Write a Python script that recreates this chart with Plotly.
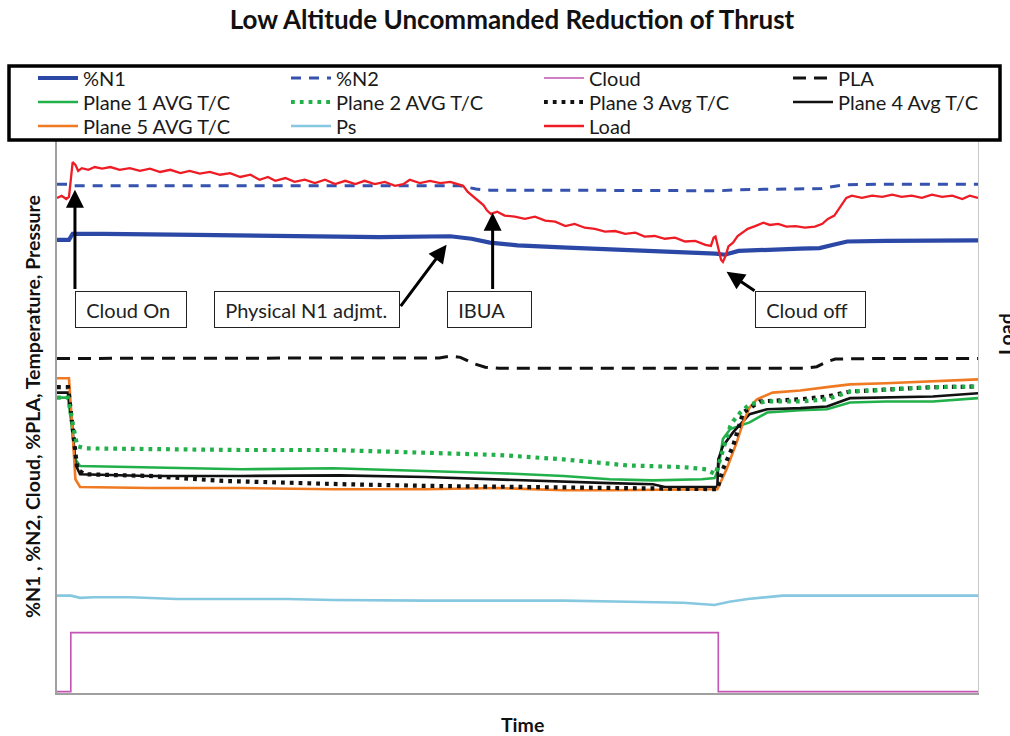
import plotly.graph_objects as go

FONT = "Lato"

# ---------------- data (time 0-100, values in % of axis height) ----------------
n1_t = [0, 1.3, 1.7, 5, 15, 25, 35, 42.7, 45, 47, 50, 55.4, 62, 69.8, 71.5, 72.5, 74, 80.7, 82.8, 84.3, 85.8, 90, 95, 100]
n1_v = [81.9, 81.9, 83.0, 83.0, 82.8, 82.6, 82.4, 82.55, 82.1, 81.4, 80.9, 80.5, 80.1, 79.6, 79.4, 79.2, 79.9, 80.3, 80.4, 81.0, 81.6, 81.7, 81.8, 81.8]

n2_t = [0, 1.3, 1.7, 10, 30, 43.8, 45.5, 47, 55, 65, 72, 74, 80.7, 83, 85.5, 90, 100]
n2_v = [92.0, 92.0, 91.7, 91.7, 91.6, 91.7, 91.1, 90.9, 90.9, 90.9, 90.8, 91.0, 91.2, 91.2, 91.9, 92.0, 92.0]

cloud_t = [0, 1.5, 71.8, 100]
cloud_v = [0, 10.7, 0, 0]

pla_t = [0, 10, 30, 41.5, 42.7, 43.8, 45.2, 46.5, 48, 55, 70, 81.2, 82.5, 83.6, 84.5, 90, 100]
pla_v = [60.4, 60.4, 60.4, 60.5, 60.8, 60.6, 59.5, 58.8, 58.6, 58.6, 58.6, 58.6, 58.9, 59.8, 60.3, 60.4, 60.4]

p1_t = [0, 1.2, 1.5, 2.0, 2.5, 10, 20, 30, 40, 48, 55, 60, 64.7, 70, 71.4, 71.8, 72.3, 73.1, 75.2, 77.1, 80.7, 83.6, 86.1, 90, 95.1, 100]
p1_v = [53.3, 53.3, 49.4, 42.1, 40.9, 40.7, 40.3, 40.5, 40.0, 39.6, 39.1, 38.5, 38.3, 38.5, 38.7, 40.3, 45.8, 47.6, 48.8, 50.6, 51.0, 51.2, 52.4, 52.6, 52.6, 53.2]

p2_t = [0, 1.2, 1.6, 2.2, 3, 10, 20, 30, 40, 48, 55, 62, 68, 70.5, 71.5, 72.2, 73.1, 73.4, 74.2, 75.2, 77, 80.7, 83.6, 86.1, 90, 95.1, 100]
p2_v = [53.3, 53.3, 49.4, 44.5, 44.1, 43.9, 43.8, 43.8, 43.4, 42.9, 42.1, 41.0, 40.7, 40.3, 39.4, 43.4, 48.1, 49.0, 50.6, 52.1, 52.6, 52.6, 53.0, 54.4, 54.8, 55.2, 55.3]

p3_t = [0, 1.2, 1.6, 2.2, 3, 10, 18, 25, 31, 40, 50, 60, 71.7, 72.3, 73.4, 74.5, 76.3, 80.7, 83.6, 86.1, 90, 95.1, 100]
p3_v = [55.2, 55.2, 49.4, 40.3, 39.4, 39.1, 38.2, 37.8, 37.6, 37.3, 37.1, 36.9, 36.7, 40.3, 44.5, 50.6, 52.6, 53.0, 53.5, 54.4, 54.8, 55.2, 55.3]

p4_t = [0, 1.2, 1.6, 2.0, 2.5, 10, 20, 30.7, 40, 50, 60, 64.7, 66, 71.7, 71.8, 72.3, 73.4, 75.2, 77.1, 80.7, 83.6, 86.1, 90, 95.1, 100]
p4_v = [54.2, 54.2, 49.4, 41.2, 39.4, 39.1, 39.1, 39.2, 38.9, 38.3, 37.8, 37.6, 37.1, 37.1, 42.1, 44.5, 47.0, 50.3, 51.2, 51.4, 51.7, 53.2, 53.3, 53.5, 54.1]

p5_t = [0, 1.3, 1.6, 2.0, 2.5, 10, 20, 30, 40, 48, 55, 60, 71.7, 72.7, 73.8, 74.5, 75.2, 76.0, 77.7, 80.7, 83.6, 86.1, 90, 95.1, 100]
p5_v = [56.8, 56.8, 49.4, 38.5, 37.1, 36.9, 36.9, 36.7, 36.7, 36.9, 36.5, 36.5, 36.7, 40.3, 45.2, 48.8, 51.5, 53.0, 54.2, 54.6, 55.2, 55.7, 55.9, 56.2, 56.6]

ps_t = [0, 1.5, 2.5, 4, 8, 13, 25, 30, 40, 55, 62, 68, 71.4, 73, 75, 78.8, 85, 95, 100]
ps_v = [17.4, 17.4, 17.0, 17.1, 17.1, 16.8, 16.8, 16.6, 16.5, 16.5, 16.3, 16.1, 15.7, 16.3, 16.8, 17.4, 17.4, 17.4, 17.4]

load_t = [0, 0.5, 1.0, 1.3, 1.5, 1.7, 2.0, 2.3, 2.7, 3.4, 4.1, 4.9, 5.8, 6.8, 7.9, 9.0, 10.1, 11.2, 12.3, 13.4,
          14.4, 15.5, 16.6, 17.7, 18.8, 19.9, 21.0, 22.0, 22.9, 23.7, 24.8, 25.8, 26.9, 28.0, 29.1, 30.2, 31.3, 32.4, 33.4, 34.5,
          35.6, 36.7, 37.6, 38.3, 39.4, 40.5, 41.6, 42.7, 43.5, 44.1, 44.6, 45.2, 45.7, 46.3, 46.7, 47.1, 47.8, 48.6, 49.7, 50.8,
          51.9, 53.0, 54.1, 55.2, 56.2, 57.3, 58.4, 59.5, 60.6, 61.7, 62.8, 63.8, 64.9, 66.0, 67.1, 68.2, 69.3, 70.4, 71.0, 71.3,
          71.5, 71.8, 72.1, 72.3, 72.6, 72.9, 73.4, 73.9, 74.5, 75.0, 75.8, 76.7, 77.4, 78.3, 79.2, 80.2, 81.2, 82.3, 83.1, 83.7,
          84.4, 84.8, 85.2, 85.7, 86.3, 87.4, 88.5, 89.6, 90.7, 91.7, 92.8, 93.9, 95.0, 96.1, 97.2, 98.3, 99.1, 100]
load_v = [89.5, 89.9, 89.3, 89.7, 92.8, 96.0, 95.5, 94.4, 94.9, 94.6, 95.1, 94.8, 95.1, 94.6, 94.9, 94.4, 94.8, 94.2, 94.6, 94.0,
          94.4, 93.9, 94.2, 93.7, 94.0, 93.3, 93.7, 92.8, 93.3, 92.6, 93.1, 92.4, 92.8, 92.2, 92.8, 92.0, 92.6, 92.0, 92.6, 92.0,
          92.4, 91.7, 92.0, 92.8, 92.2, 92.6, 92.2, 92.4, 92.0, 91.7, 90.6, 89.7, 89.0, 88.2, 87.2, 86.6, 87.0, 86.3, 86.1, 85.7,
          86.1, 85.4, 85.2, 84.4, 84.8, 84.1, 83.9, 83.4, 83.5, 83.0, 83.2, 82.5, 82.6, 82.1, 82.3, 81.6, 81.7, 81.0, 80.8, 82.3,
          82.5, 80.1, 78.3, 77.9, 79.0, 80.7, 81.4, 82.6, 83.4, 83.9, 84.4, 85.0, 84.6, 84.8, 84.3, 84.4, 84.1, 84.3, 84.8, 85.7,
          86.3, 87.3, 88.1, 89.5, 89.9, 89.5, 89.9, 89.7, 90.1, 89.7, 89.9, 89.5, 90.1, 89.7, 89.9, 89.3, 89.9, 89.5]

# annotations: (label, x center, y center, box width px)
box_labels = ["Cloud On", "Physical N1 adjmt.", "IBUA", "Cloud off"]
box_x = [8.03, 27.1, 46.96, 81.8]
box_y = [69.3, 69.3, 69.3, 69.3]
box_w = [112, 186, 85, 111]
# arrows: tip (x,y) and tail (x,y)
arr_tip_x = [1.95, 42.3, 47.3, 72.7]
arr_tip_y = [91.0, 81.0, 86.8, 76.1]
arr_tail_x = [1.95, 37.2, 47.3, 75.9]
arr_tail_y = [72.7, 69.6, 72.7, 72.5]

# ---------------- figure ----------------
fig = go.Figure()

def add(name, t, v, color, width, dash="solid", legend="legend", yaxis="y", shape="linear"):
    fig.add_trace(go.Scatter(x=t, y=v, name=name, mode="lines",
                             line=dict(color=color, width=width, dash=dash, shape=shape),
                             legend=legend, yaxis=yaxis, hoverinfo="skip"))

add("Cloud", cloud_t, cloud_v, "#C455B5", 1.6, legend="legend", shape="hv")
add("Ps", ps_t, ps_v, "#86C8E0", 2.6, legend="legend3")
add("Plane 1 AVG T/C", p1_t, p1_v, "#22B04A", 2.6, legend="legend2")
add("Plane 4 Avg T/C", p4_t, p4_v, "#111111", 2.6, legend="legend5")
add("Plane 5 AVG T/C", p5_t, p5_v, "#F07A22", 2.6, legend="legend3")
add("Plane 3 Avg T/C", p3_t, p3_v, "#111111", 4.2, dash="3.8px,5px", legend="legend2")
add("Plane 2 AVG T/C", p2_t, p2_v, "#22B04A", 4.2, dash="3.8px,5px", legend="legend2")
add("PLA", pla_t, pla_v, "#111111", 3, dash="13px,8px", legend="legend4")
add("%N2", n2_t, n2_v, "#3552AE", 3, dash="10px,8px", legend="legend")
add("%N1", n1_t, n1_v, "#2C48A6", 4.2, legend="legend")
add("Load", load_t, load_v, "#EE1C25", 2.3, legend="legend3", yaxis="y2")

# legend ordering via legendrank
order = ["%N1", "%N2", "Cloud", "PLA", "Plane 1 AVG T/C", "Plane 2 AVG T/C", "Plane 3 Avg T/C",
         "Plane 4 Avg T/C", "Plane 5 AVG T/C", "Ps", "Load"]
for tr in fig.data:
    tr.legendrank = order.index(tr.name)

W, H = 1010, 736
L, R, T, B = 57, 32, 140, 43

leg_common = dict(orientation="h", entrywidth=198, entrywidthmode="pixels", itemwidth=40,
                  xref="container", yref="container", xanchor="left", yanchor="middle",
                  bgcolor="rgba(0,0,0,0)", borderwidth=0, traceorder="normal",
                  font=dict(family=FONT, size=20, color="#1a1a1a"), tracegroupgap=0)
leg_x = 33 / W
leg_x4 = 788 / W
fig.update_layout(
    legend=dict(x=leg_x, y=1 - 78 / H, **leg_common),
    legend2=dict(x=leg_x, y=1 - 102 / H, **leg_common),
    legend3=dict(x=leg_x, y=1 - 126 / H, **leg_common),
    legend4=dict(x=leg_x4, y=1 - 78 / H, **leg_common),
    legend5=dict(x=leg_x4, y=1 - 102 / H, **leg_common),
)

axis_common = dict(showgrid=False, zeroline=False, showticklabels=False, ticks="")
fig.update_layout(
    width=W, height=H,
    margin=dict(l=L, r=R, t=T, b=B, pad=0, autoexpand=False),
    paper_bgcolor="white", plot_bgcolor="white",
    showlegend=True,
    title=dict(text="<b>Low Altitude Uncommanded Reduction of Thrust</b>",
               x=512 / W, xanchor="center", y=1 - 20 / H, yanchor="middle",
               font=dict(family=FONT, size=26, color="#111111")),
    xaxis=dict(range=[0, 100], showline=True, linecolor="#A0A0A0", linewidth=1.5, **axis_common),
    yaxis=dict(range=[-0.25, 100], showline=True, linecolor="#A0A0A0", linewidth=1.5, **axis_common),
    yaxis2=dict(range=[-0.25, 100], overlaying="y", side="right", showline=True,
                linecolor="#C8C8C8", linewidth=1.2, **axis_common),
)

annos = []
pw, ph = W - L - R, H - T - B
def px_x(p):
    return (p - L) / pw
def px_y(p):
    return (H - B - p) / ph

annos.append(dict(text="<b>%N1 , %N2, Cloud, %PLA, Temperature, Pressure</b>", textangle=-90,
                  xref="paper", yref="paper", x=px_x(32), y=px_y(407), showarrow=False,
                  xanchor="center", yanchor="middle", font=dict(family=FONT, size=19.5, color="#111")))
annos.append(dict(text="<b>Load</b>", textangle=-90, xref="paper", yref="paper",
                  x=px_x(1005), y=px_y(334), showarrow=False, xanchor="center", yanchor="middle",
                  font=dict(family=FONT, size=19.5, color="#111")))
annos.append(dict(text="<b>Time</b>", xref="paper", yref="paper", x=px_x(522), y=px_y(724),
                  showarrow=False, xanchor="center", yanchor="middle",
                  font=dict(family=FONT, size=19.5, color="#111")))

for lab, bx, by, bw in zip(box_labels, box_x, box_y, box_w):
    annos.append(dict(text="&nbsp;&nbsp;" + lab, x=bx, y=by, xref="x", yref="y", showarrow=False,
                      xanchor="center", yanchor="middle", align="left", width=bw - 2, height=35,
                      bordercolor="#222", borderwidth=1, borderpad=0, bgcolor="white",
                      font=dict(family=FONT, size=20, color="#222")))
for tx, ty, sx, sy in zip(arr_tip_x, arr_tip_y, arr_tail_x, arr_tail_y):
    annos.append(dict(text="", x=tx, y=ty, ax=sx, ay=sy, xref="x", yref="y", axref="x", ayref="y",
                      showarrow=True, arrowhead=2, arrowsize=1.2, arrowwidth=3, arrowcolor="#000",
                      standoff=0, startstandoff=0))
fig.update_layout(annotations=annos)

# legend frame
fig.add_shape(type="rect", xref="paper", yref="paper",
              x0=px_x(9), x1=px_x(1000), y0=px_y(140), y1=px_y(66),
              line=dict(color="#000", width=3.5), fillcolor="rgba(0,0,0,0)", layer="above")

fig.write_html("out.html")
